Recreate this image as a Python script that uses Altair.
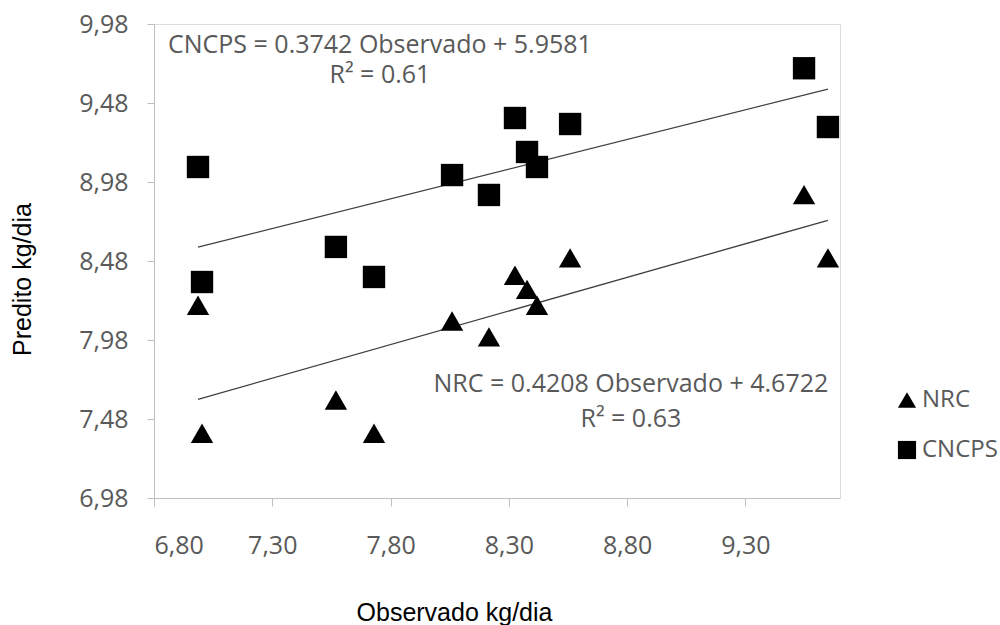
import altair as alt
import pandas as pd

# Observed values (x) shared by both models
observado = [6.986, 7.003, 7.569, 7.730, 8.060, 8.216, 8.326, 8.377, 8.419, 8.559, 9.548, 9.649]
# Predicted values
pred_cncps = [9.075, 8.347, 8.569, 8.379, 9.024, 8.898, 9.385, 9.170, 9.075, 9.347, 9.700, 9.328]
pred_nrc = [8.200, 7.390, 7.600, 7.390, 8.100, 8.000, 8.390, 8.300, 8.200, 8.500, 8.900, 8.500]

series_names = ["NRC", "CNCPS"]
x_ticks = [6.80, 7.30, 7.80, 8.30, 8.80, 9.30]
y_ticks = [6.98, 7.48, 7.98, 8.48, 8.98, 9.48, 9.98]

# Equation annotations (text, position in data units)
ann_text = ["CNCPS = 0.3742 Observado + 5.9581", "R² = 0.61",
            "NRC = 0.4208 Observado + 4.6722", "R² = 0.63"]
ann_x = [7.755, 7.755, 8.816, 8.816]
ann_y = [9.796, 9.607, 7.651, 7.429]

rows = []
for xv, yv in zip(observado, pred_nrc):
    rows.append({"obs": xv, "pred": yv, "series": "NRC"})
for xv, yv in zip(observado, pred_cncps):
    rows.append({"obs": xv, "pred": yv, "series": "CNCPS"})
df = pd.DataFrame(rows)
ann = pd.DataFrame({"t": ann_text, "x": ann_x, "y": ann_y})

GRAY = "#bfbfbf"
TXT = "#595959"

xscale = alt.Scale(domain=[6.8, 9.7], nice=False, zero=False)
yscale = alt.Scale(domain=[6.98, 9.98], nice=False, zero=False)

xaxis = alt.Axis(values=x_ticks, grid=False, domainColor=GRAY, tickColor=GRAY,
                 tickSize=8, labelPadding=27, labelFont="Open Sans", labelFontSize=25,
                 labelColor=TXT, labelExpr="replace(format(datum.value, '.2f'), '.', ',')",
                 title="Observado kg/dia", titleFont="Liberation Sans", titleFontSize=25,
                 titleFontWeight="normal", titleColor="black", titleX=300, titleY=122,
                 titleAlign="center", titleBaseline="alphabetic")
yaxis = alt.Axis(values=y_ticks, grid=False, domainColor=GRAY, tickColor=GRAY,
                 tickSize=7, labelPadding=19, labelFont="Open Sans", labelFontSize=25,
                 labelColor=TXT, labelExpr="replace(format(datum.value, '.2f'), '.', ',')",
                 title="Predito kg/dia", titleFont="Liberation Sans", titleFontSize=25,
                 titleFontWeight="normal", titleColor="black", titleX=-124, titleY=255,
                 titleAngle=270, titleAlign="center", titleBaseline="alphabetic")

base = alt.Chart(df)

points = base.mark_point(filled=True, opacity=1, size=500, strokeWidth=0).encode(
    x=alt.X("obs:Q", scale=xscale, axis=xaxis),
    y=alt.Y("pred:Q", scale=yscale, axis=yaxis),
    shape=alt.Shape("series:N",
                    scale=alt.Scale(domain=series_names, range=["triangle-up", "square"]),
                    legend=alt.Legend(title=None, orient="none", legendX=741, legendY=364,
                                      padding=0, labelFont="Open Sans", labelFontSize=24,
                                      labelColor=TXT, symbolSize=330, symbolFillColor="black",
                                      symbolStrokeColor="black", symbolStrokeWidth=0,
                                      rowPadding=26, labelOffset=3)),
    color=alt.value("black"),
)

lines = base.transform_regression("obs", "pred", groupby=["series"]).mark_line(
    color="#404040", strokeWidth=1.3
).encode(
    x=alt.X("obs:Q", scale=xscale),
    y=alt.Y("pred:Q", scale=yscale),
    detail="series:N",
)

texts = alt.Chart(ann).mark_text(font="Open Sans", fontSize=25, color=TXT,
                                 align="center", baseline="alphabetic").encode(
    x=alt.X("x:Q", scale=xscale),
    y=alt.Y("y:Q", scale=yscale),
    text="t:N",
)

chart = alt.layer(lines, points, texts).properties(
    width=686, height=474,
    autosize=alt.AutoSizeParams(type="none"),
    padding={"left": 154, "top": 24, "right": 160, "bottom": 127},
).configure_view(stroke=None).configure(background="white")

chart.save("out.html", embed_options={"renderer": "svg", "actions": False})
